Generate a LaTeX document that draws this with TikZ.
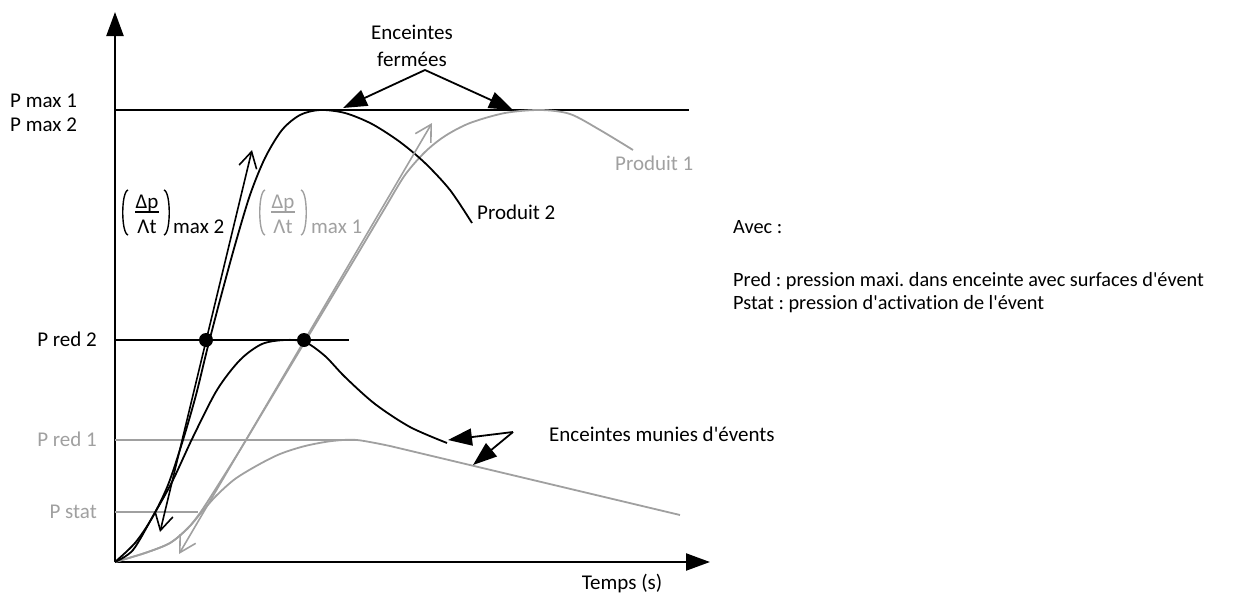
\documentclass[tikz,border=0pt]{standalone}
\usepackage{fontspec}
\setmainfont{Carlito}[Ligatures={TeXOff,NoCommon}]
\usetikzlibrary{arrows.meta}
\definecolor{lightcurve}{RGB}{160,160,160}
\frenchspacing
\begin{document}
\begin{tikzpicture}[x=1pt,y=-1pt,
  axis/.style={line width=2.2pt,-{Triangle[length=24pt,width=17pt]}},
  curve/.style={line width=1.8pt},
  level/.style={line width=1.6pt},
  lbl/.style={font=\fontsize{21}{25}\selectfont, inner sep=0pt},
  legend/.style={font=\fontsize{20.3}{24}\selectfont, inner sep=0pt},
  barbs/.style={line width=1.6pt,{Straight Barb[length=16pt,width=18pt]}-{Straight Barb[length=16pt,width=18pt]}},
  pointer/.style={line width=1.8pt,-{Triangle[length=24pt,width=17pt]}},
  paren/.style={line width=1.4pt},
  dot/.style={circle,fill=black,minimum size=14pt,inner sep=0pt}
]
\useasboundingbox (0,0) rectangle (1245,597);

% axes
\coordinate (O) at (115,562);
\coordinate (ytip) at (115,12);
\coordinate (xtip) at (710,562);
\draw[axis] (O) -- (ytip);
\draw[axis] (O) -- (xtip);

% pressure levels
\coordinate (pmaxA) at (115,110);  \coordinate (pmaxB) at (689,110);
\coordinate (pr2A) at (115,340);   \coordinate (pr2B) at (349,340);
\coordinate (pr1A) at (115,440);   \coordinate (pr1B) at (357,440);
\coordinate (pstA) at (115,512);   \coordinate (pstB) at (198,512);
\draw[level] (pmaxA) -- (pmaxB);
\draw[level] (pr2A) -- (pr2B);
\draw[level,lightcurve] (pr1A) -- (pr1B);
\draw[level,lightcurve] (pstA) -- (pstB);

% product 1 (grey): closed vessel and vented vessel
\draw[curve,lightcurve] plot[smooth] coordinates {(115,562) (145,553) (170,543) (188,528) (200,513) (215,490) (240,450) (270,400) (300,350) (330,300) (360,250) (385,208) (405,175) (425,152) (445,136) (470,123) (505,113) (540,110) (570,114) (600,130) (633,150)};
\draw[curve,lightcurve] plot[smooth] coordinates {(115,562) (145,553) (170,543) (188,528) (201,513) (216,496) (235,479) (258,465) (280,454) (305,446) (332,441) (357,440) (390,446)} -- (680,515);

% product 2 (black): closed vessel and vented vessel
\draw[curve] plot[smooth] coordinates {(115,562) (135,543) (152,518) (168,485) (183,440) (196,395) (207,350) (220,300) (235,245) (250,195) (265,158) (282,130) (300,115) (320,110) (345,113) (372,124) (400,142) (425,163) (450,190) (472,223)};
\draw[curve] plot[smooth] coordinates {(115,562) (133,550) (153,516) (172,482) (193,437) (217,390) (240,360) (262,344) (285,340) (305,342) (325,356) (345,377) (375,404) (410,427) (447,443)};

% max-slope tangents
\coordinate (t2a) at (160,532); \coordinate (t2b) at (252,150);
\coordinate (t1a) at (179,554); \coordinate (t1b) at (432,123);
\draw[barbs] (t2a) -- (t2b);
\draw[barbs,lightcurve] (t1a) -- (t1b);

% intersections with P red 2
\node[dot] (d2) at (206,340) {};
\node[dot] (d1) at (304,340) {};

% axis labels
\node[lbl,anchor=base west] (pmax1) at (10,107) {P max 1};
\node[lbl,anchor=base west] (pmax2) at (10,131) {P max 2};
\node[lbl,anchor=base east] (pred2) at (97,346) {P red 2};
\node[lbl,anchor=base east,lightcurve] (pred1) at (97,446) {P red 1};
\node[lbl,anchor=base east,lightcurve] (pstat) at (97,518) {P stat};
\node[lbl,anchor=base] (temps) at (622,589) {Temps (s)};

% closed vessel annotation
\node[lbl,anchor=base] (fermA) at (412,39) {Enceintes};
\node[lbl,anchor=base] (fermB) at (412,66) {fermées};
\coordinate (fapex) at (425,70);
\coordinate (ftipL) at (343,108);
\coordinate (ftipR) at (513,110);
\draw[pointer] (fapex) -- (ftipL);
\draw[pointer] (fapex) -- (ftipR);

% vented vessel annotation
\node[lbl,anchor=base west] (munies) at (549,441) {Enceintes munies d'évents};
\coordinate (vapex) at (513,432);
\coordinate (vtipL) at (448,440);
\coordinate (vtipD) at (473,465);
\draw[pointer] (vapex) -- (vtipL);
\draw[pointer] (vapex) -- (vtipD);

% curve names
\node[lbl,anchor=base west] (prod2) at (477,219) {Produit 2};
\node[lbl,anchor=base west,lightcurve] (prod1) at (615,170) {Produit 1};

% slope labels (dp/dt)max
\node[lbl,anchor=base] (num2) at (147,208) {Δp};
\node[lbl,anchor=base] (den2) at (147,233) {Λt};
\draw[line width=1.2pt] (135,212) -- (159,212);
\draw[paren] (128,190) .. controls (121,192) and (121,233) .. (128,235);
\draw[paren] (164,190) .. controls (171,192) and (171,233) .. (164,235);
\node[lbl,anchor=base west] (max2) at (173,233) {max 2};

\begin{scope}[lightcurve]
\node[lbl,anchor=base,lightcurve] (num1) at (283,208) {Δp};
\node[lbl,anchor=base,lightcurve] (den1) at (283,233) {Λt};
\draw[line width=1.2pt] (271,212) -- (295,212);
\draw[paren] (265,190) .. controls (258,192) and (258,233) .. (265,235);
\draw[paren] (301,190) .. controls (308,192) and (308,233) .. (301,235);
\node[lbl,anchor=base west,lightcurve] (max1) at (311,233) {max 1};
\end{scope}

% legend
\node[legend,anchor=base west] (avec) at (733,233) {Avec :};
\node[legend,anchor=base west] (lpred) at (733,286) {Pred : pression maxi. dans enceinte avec surfaces d'évent};
\node[legend,anchor=base west] (lpstat) at (733,309) {Pstat : pression d'activation de l'évent};
\end{tikzpicture}
\end{document}
